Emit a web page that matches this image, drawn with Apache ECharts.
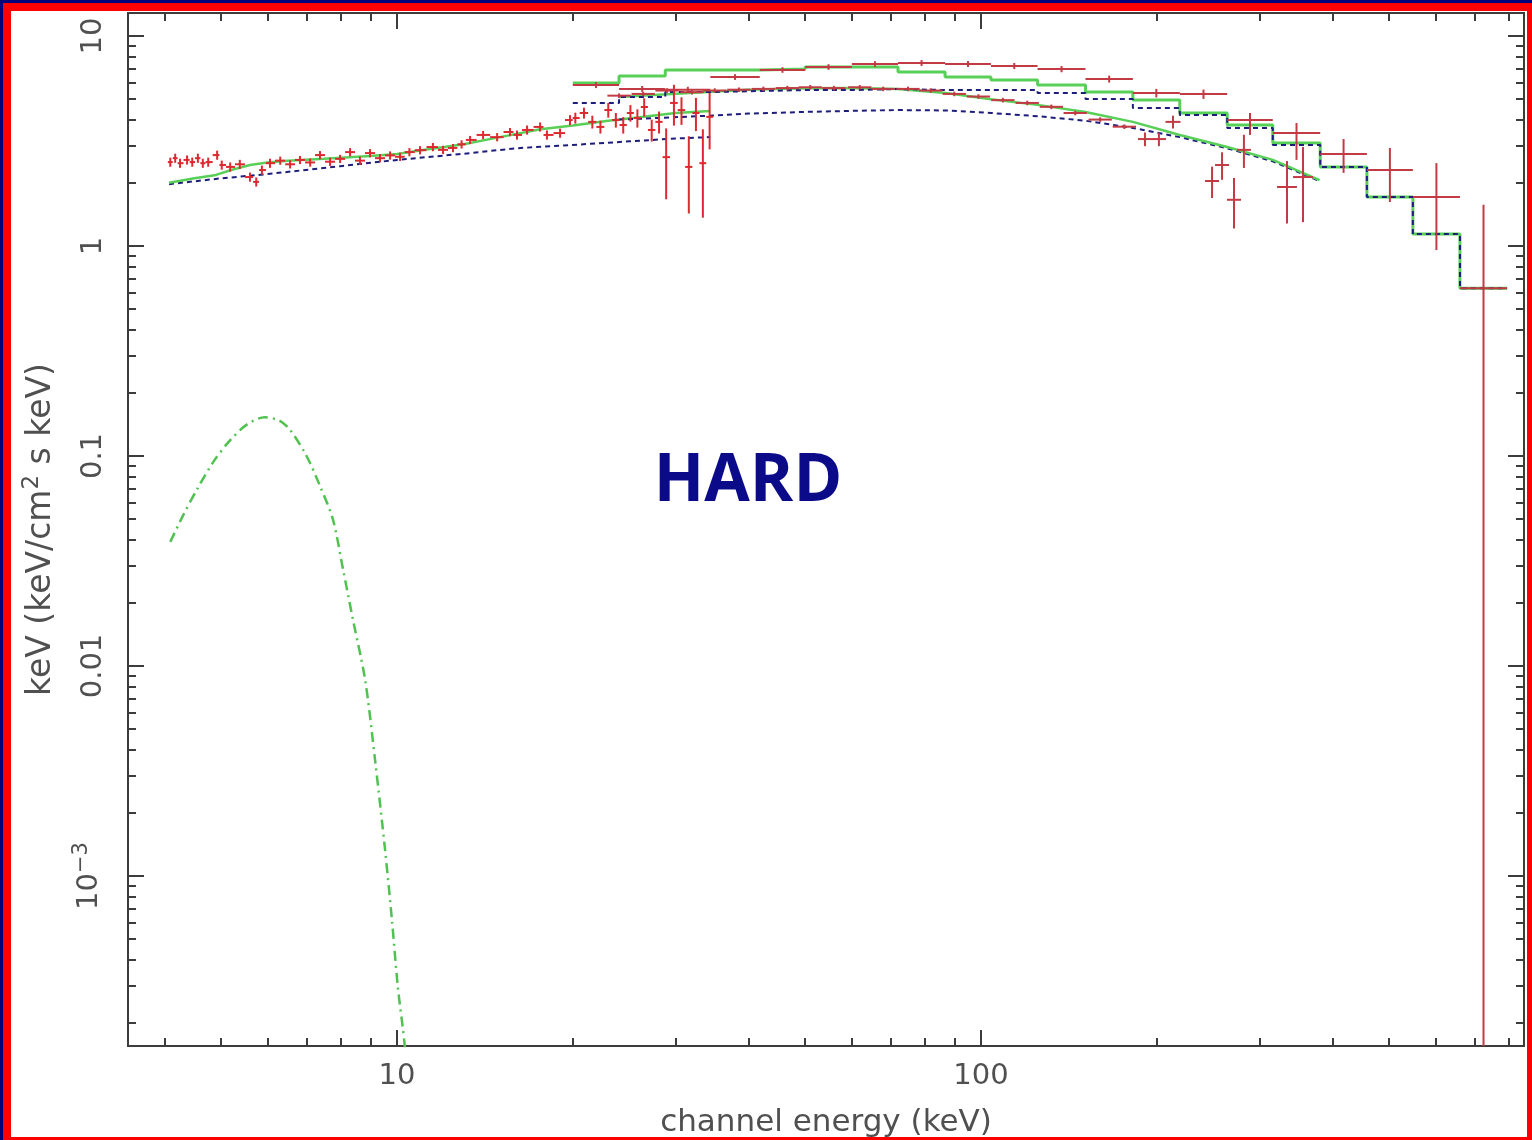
<!DOCTYPE html>
<html>
<head>
<meta charset="utf-8">
<title>HARD state spectrum</title>
<script src="https://cdn.jsdelivr.net/npm/echarts@6/dist/echarts.min.js"></script>
<style>
  html, body { margin: 0; padding: 0; width: 1532px; height: 1140px; overflow: hidden; background: #04047a; }
  #frame { position: absolute; left: 3px; top: 3px; width: 1529px; height: 1137px; background: #ff0000; }
  #paper { position: absolute; left: 11px; top: 11px; width: 1516px; height: 1126px; background: #ffffff; }
  #chart { position: absolute; left: 0; top: 0; width: 1532px; height: 1140px; }
</style>
</head>
<body>
<div id="frame"></div>
<div id="paper"></div>
<div id="chart"></div>
<script>
// ---------------- data ----------------
// PCA channels: energy (keV), E*F_E flux, fractional error
const pcaE = [4.09,4.17,4.25,4.37,4.46,4.56,4.65,4.75,4.92,5.01,5.18,5.38,5.60,5.74,5.87,6.06,6.31,6.56,6.82,7.10,
  7.38,7.68,7.99,8.31,8.64,8.99,9.35,9.73,10.12,10.50,10.95,11.52,11.99,12.47,12.90,13.34,14.04,14.84,15.61,16.05,
  16.70,17.58,18.06,19.02,19.78,20.2,20.9,21.6,22.3,23.0,23.7,24.4,25.1,25.8,26.5,27.3,28.1,28.9,29.8,30.7,
  31.6,32.5,33.4,34.3];
const pcaF = [2.51,2.62,2.48,2.57,2.51,2.62,2.48,2.51,2.71,2.43,2.38,2.45,2.13,2.02,2.30,2.48,2.55,2.45,2.57,2.50,
  2.71,2.52,2.60,2.80,2.55,2.77,2.62,2.70,2.66,2.80,2.86,2.96,2.87,2.93,3.05,3.20,3.38,3.30,3.49,3.38,
  3.57,3.69,3.38,3.45,3.98,4.07,4.30,3.90,3.69,4.44,3.98,3.77,4.30,4.07,4.59,3.57,3.90,2.65,4.80,4.44,
  2.38,4.30,2.48,4.12];
const pcaErr = [0.05,0.05,0.05,0.05,0.05,0.05,0.05,0.05,0.05,0.05,0.05,0.05,0.05,0.05,0.05,0.05,0.045,0.045,0.045,0.045,
  0.045,0.045,0.045,0.045,0.045,0.045,0.045,0.045,0.045,0.045,0.045,0.045,0.045,0.045,0.045,0.045,0.045,0.045,0.045,0.05,
  0.05,0.05,0.05,0.05,0.055,0.06,0.06,0.07,0.07,0.08,0.08,0.09,0.09,0.1,0.1,0.12,0.12,0.37,0.22,0.15,
  0.40,0.18,0.45,0.30];

// PCA total model and continuum component
const pcaModelE = [4.07,4.5,4.9,5.2,5.6,6.0,6.5,7.5,9,10,11,13,15,17.6,20,23,26,30,34.4];
const pcaModelF = [2.0,2.1,2.18,2.3,2.43,2.5,2.55,2.6,2.68,2.74,2.86,3.05,3.3,3.6,3.75,3.95,4.1,4.3,4.4];
const pcaCompE = [4.07,5,6,8,10,13,16,20,25,30,34.4];
const pcaCompF = [1.97,2.1,2.2,2.4,2.57,2.75,2.92,3.03,3.15,3.25,3.3];

// disk blackbody component
const diskE = [4.09,4.3,4.54,4.85,5.18,5.55,5.94,6.3,6.56,7.0,7.38,7.77,8.08,8.41,8.82,9.17,9.54,9.8,10.04,10.24,10.35];
const diskF = [0.039,0.052,0.069,0.094,0.119,0.142,0.153,0.147,0.133,0.10,0.072,0.0496,0.029,0.0165,0.00857,0.00357,0.00133,0.00062,0.00029,0.000185,0.00014];

// finely binned high-energy spectrum
const fineE = [24,26.4,29,32,35,38.5,42.4,46.6,51,56,62,68,75,82,90,99,109,120,132,145,160,176,
  190.9,201.7,213.2,248.7,258.7,271.2,282,334.2,356];
const fineF = [5.2,5.3,5.5,5.4,5.5,5.55,5.6,5.65,5.7,5.65,5.7,5.6,5.6,5.5,5.3,5.15,4.95,4.8,4.6,4.3,4.0,3.7,
  3.23,3.23,3.9,2.04,2.43,1.66,2.87,1.91,2.13];
const fineErr = [0.025,0.025,0.025,0.025,0.025,0.025,0.025,0.025,0.025,0.025,0.025,0.025,0.025,0.025,0.025,0.025,0.025,0.025,0.025,0.025,0.025,0.025,
  0.075,0.075,0.07,0.17,0.15,0.27,0.18,0.33,0.39];
const fineHalf = [0.047,0.047,0.047,0.047,0.047,0.047,0.047,0.047,0.047,0.047,0.047,0.047,0.047,0.047,0.047,0.047,0.047,0.047,0.047,0.047,0.047,0.047,
  0.028,0.028,0.03,0.028,0.028,0.028,0.028,0.04,0.04];
const fineModelE = [24,28,34,40,50,60,72,87,104,125,151,182,219,264,316,380];
const fineModelF = [5.12,5.25,5.41,5.55,5.64,5.66,5.6,5.35,5.0,4.7,4.35,3.9,3.38,2.96,2.57,2.06];
const fineCompF  = [4.0,4.07,4.17,4.27,4.35,4.4,4.44,4.42,4.3,4.15,3.95,3.65,3.3,2.92,2.53,2.04];

// wide-bin high-energy spectrum (bin edges, flux, lower/upper bounds, model, component)
const hexEdges = [20,24,28.8,34.4,41.8,50,60.1,72.1,86.8,104,125,151,182,219,264,316,381,458,549,661,796];
const hexF  = [5.84,5.6,5.55,6.38,6.89,7.12,7.36,7.44,7.36,7.2,6.96,6.24,5.35,5.29,3.98,3.45,2.74,2.3,1.71,0.63];
const hexLo = [5.65,5.42,5.37,6.18,6.68,6.9,7.13,7.2,7.12,6.96,6.72,6.0,5.1,5.02,3.38,2.57,2.23,1.62,0.957,0];
const hexHi = [6.03,5.78,5.73,6.58,7.1,7.34,7.59,7.68,7.6,7.44,7.2,6.48,5.6,5.56,4.30,3.85,3.23,2.93,2.48,1.57];
const hexModelF = [5.97,6.45,6.89,6.89,6.96,7.12,7.12,6.74,6.38,6.17,5.84,5.41,4.96,4.30,3.77,3.09,2.38,1.71,1.14,0.63];
const hexCompF  = [4.80,5.12,5.41,5.47,5.53,5.53,5.59,5.53,5.53,5.53,5.35,5.01,4.54,4.21,3.65,3.03,2.38,1.71,1.14,0.63];

// axes
const X_MIN = 3.462, X_MAX = 850.9;
const Y_MIN = 1.55e-4, Y_MAX = 12.87;
const xMajorTicks = [10, 100];
const xTickLabels = ['10', '100'];
const yMajorTicks = [0.001, 0.01, 0.1, 1, 10];
const yTickLabels = ['{m|10}{s|\u22123}', '0.01', '0.1', '1', '10'];

// ---------------- helpers ----------------
function minorLogTicks(lo, hi) {
  const out = [];
  for (let d = Math.floor(Math.log10(lo)); d <= Math.ceil(Math.log10(hi)); d++) {
    for (let k = 2; k <= 9; k++) {
      const v = k * Math.pow(10, d);
      if (v >= lo && v <= hi) out.push(v);
    }
  }
  return out;
}
const xMinorTicks = minorLogTicks(X_MIN, X_MAX);
const yMinorTicks = minorLogTicks(Y_MIN, Y_MAX);

function zipPts(xs, ys) { return xs.map((x, i) => [x, ys[i]]); }

// contiguous channels: edges at geometric midpoints of neighbours
function crossesContiguous(E, F, err) {
  return E.map((e, i) => {
    const lo = i > 0 ? Math.sqrt(E[i - 1] * e) : e * e / Math.sqrt(e * E[i + 1]);
    const hi = i < E.length - 1 ? Math.sqrt(e * E[i + 1]) : e * e / Math.sqrt(E[i - 1] * e);
    return [e, F[i], lo, hi, F[i] * (1 - err[i]), F[i] * (1 + err[i])];
  });
}
function crossesHalfWidth(E, F, err, half) {
  return E.map((e, i) => [e, F[i], e / (1 + half[i]), e * (1 + half[i]), F[i] * (1 - err[i]), F[i] * (1 + err[i])]);
}
function crossesBinned(edges, F, lo, hi) {
  return F.map((f, i) => [Math.sqrt(edges[i] * edges[i + 1]), f, edges[i], edges[i + 1], lo[i], hi[i]]);
}
function stepPts(edges, vals) {
  const pts = vals.map((v, i) => [edges[i], v]);
  pts.push([edges[edges.length - 1], vals[vals.length - 1]]);
  return pts;
}

function crossRenderer(color, width) {
  return function (params, api) {
    const cs = params.coordSys;
    const yBottom = cs.y + cs.height;
    const e = api.value(0), f = api.value(1);
    const l = api.coord([api.value(2), f]);
    const r = api.coord([api.value(3), f]);
    const t = api.coord([e, api.value(5)]);
    const lo = api.value(4);
    const b = lo > 0 ? api.coord([e, lo]) : [t[0], yBottom];
    const st = { stroke: color, lineWidth: width };
    return {
      type: 'group',
      children: [
        { type: 'line', shape: { x1: l[0], y1: l[1], x2: r[0], y2: r[1] }, style: st },
        { type: 'line', shape: { x1: t[0], y1: Math.max(t[1], cs.y), x2: t[0], y2: Math.min(b[1], yBottom) }, style: st }
      ]
    };
  };
}

// ---------------- chart ----------------
const FONT = 'DejaVu Sans';
const AXIS_COLOR = '#3c3c3c';
const LABEL_COLOR = '#505050';
const GREEN = '#58d058';
const BLUE = '#1d1d7c';
const RED_PCA = '#dc2a30';
const RED_HEX = '#c23a44';

function xAxisDef(position, ticks, len, withLabels) {
  const ax = {
    type: 'log', logBase: 10, min: X_MIN, max: X_MAX, position: position,
    axisLine: { show: true, onZero: false, lineStyle: { color: AXIS_COLOR, width: 2 } },
    axisTick: { show: true, inside: true, length: len, customValues: ticks, lineStyle: { color: AXIS_COLOR, width: 2 } },
    axisLabel: { show: false },
    splitLine: { show: false },
    minorTick: { show: false }
  };
  if (withLabels) {
    ax.axisLabel = {
      show: true, customValues: xMajorTicks, margin: 16,
      fontFamily: FONT, fontSize: 29, color: LABEL_COLOR,
      formatter: v => xTickLabels[xMajorTicks.findIndex(t => Math.abs(Math.log10(t) - Math.log10(v)) < 1e-6)]
    };
    ax.name = 'channel energy (keV)';
    ax.nameLocation = 'middle';
    ax.nameGap = 61;
    ax.nameTextStyle = { fontFamily: FONT, fontSize: 31, color: LABEL_COLOR };
  }
  return ax;
}
function yAxisDef(position, ticks, len, withLabels) {
  const ax = {
    type: 'log', logBase: 10, min: Y_MIN, max: Y_MAX, position: position,
    axisLine: { show: true, onZero: false, lineStyle: { color: AXIS_COLOR, width: 2 } },
    axisTick: { show: true, inside: true, length: len, customValues: ticks, lineStyle: { color: AXIS_COLOR, width: 2 } },
    axisLabel: { show: false },
    splitLine: { show: false },
    minorTick: { show: false }
  };
  if (withLabels) {
    ax.axisLabel = {
      show: true, customValues: yMajorTicks, rotate: 90, margin: 20,
      fontFamily: FONT, fontSize: 29, color: LABEL_COLOR,
      formatter: v => yTickLabels[yMajorTicks.findIndex(t => Math.abs(Math.log10(t) - Math.log10(v)) < 1e-6)],
      rich: {
        m: { fontFamily: FONT, fontSize: 29, color: LABEL_COLOR },
        s: { fontFamily: FONT, fontSize: 21, color: LABEL_COLOR, padding: [0, 0, 16, 0] }
      }
    };
    ax.name = 'keV (keV/cm{s|2} s keV)';
    ax.nameLocation = 'middle';
    ax.nameGap = 66;
    ax.nameTextStyle = {
      fontFamily: FONT, fontSize: 33, color: LABEL_COLOR,
      rich: { s: { fontFamily: FONT, fontSize: 23, color: LABEL_COLOR, padding: [0, 0, 18, 0] } }
    };
  }
  return ax;
}

function lineSeries(name, pts, color, width, type, step, z, smooth) {
  return {
    name: name, type: 'line', data: pts, xAxisIndex: 0, yAxisIndex: 0,
    showSymbol: false, symbol: 'none', step: step || false, smooth: smooth || false,
    lineStyle: { color: color, width: width, type: type || 'solid' },
    silent: true, z: z || 2, clip: true
  };
}
function crossSeries(name, data, color, width) {
  return {
    name: name, type: 'custom', data: data, xAxisIndex: 0, yAxisIndex: 0,
    encode: { x: 0, y: 1 }, renderItem: crossRenderer(color, width),
    silent: true, z: 3, clip: true
  };
}

const chart = echarts.init(document.getElementById('chart'), null, { renderer: 'canvas' });
chart.setOption({
  animation: false,
  backgroundColor: 'transparent',
  grid: { left: 128, right: 8, top: 13, bottom: 94, containLabel: false, outerBoundsMode: 'none' },
  xAxis: [
    xAxisDef('bottom', xMajorTicks, 16, true),
    xAxisDef('bottom', xMinorTicks, 8, false),
    xAxisDef('top', xMajorTicks, 16, false),
    xAxisDef('top', xMinorTicks, 8, false)
  ],
  yAxis: [
    yAxisDef('left', yMajorTicks, 16, true),
    yAxisDef('left', yMinorTicks, 8, false),
    yAxisDef('right', yMajorTicks, 16, false),
    yAxisDef('right', yMinorTicks, 8, false)
  ],
  series: [
    lineSeries('disk', zipPts(diskE, diskF), '#4fc24f', 2.5, [10, 5, 2, 5], false, 2, 0.3),
    lineSeries('pca component', zipPts(pcaCompE, pcaCompF), BLUE, 2, [5, 4]),
    lineSeries('pca model', zipPts(pcaModelE, pcaModelF), GREEN, 2.5),
    lineSeries('fine component', zipPts(fineModelE, fineCompF), BLUE, 2, [5, 4]),
    lineSeries('fine model', zipPts(fineModelE, fineModelF), GREEN, 2.5),
    lineSeries('wide model', stepPts(hexEdges, hexModelF), GREEN, 3, 'solid', 'end'),
    lineSeries('wide component', stepPts(hexEdges, hexCompF), BLUE, 2, [5, 4], 'end', 2.5),
    crossSeries('pca data', crossesContiguous(pcaE, pcaF, pcaErr), RED_PCA, 2),
    crossSeries('fine data', crossesHalfWidth(fineE, fineF, fineErr, fineHalf), RED_HEX, 2),
    crossSeries('wide data', crossesBinned(hexEdges, hexF, hexLo, hexHi), RED_HEX, 2)
  ],
  graphic: [{
    type: 'text', x: 748, y: 482, z: 10,
    style: {
      text: 'HARD', fill: '#0b0b8a',
      font: 'bold 66px "Open Sans"',
      textAlign: 'center', textVerticalAlign: 'middle', align: 'center', verticalAlign: 'middle'
    }
  }]
});
</script>
</body>
</html>
